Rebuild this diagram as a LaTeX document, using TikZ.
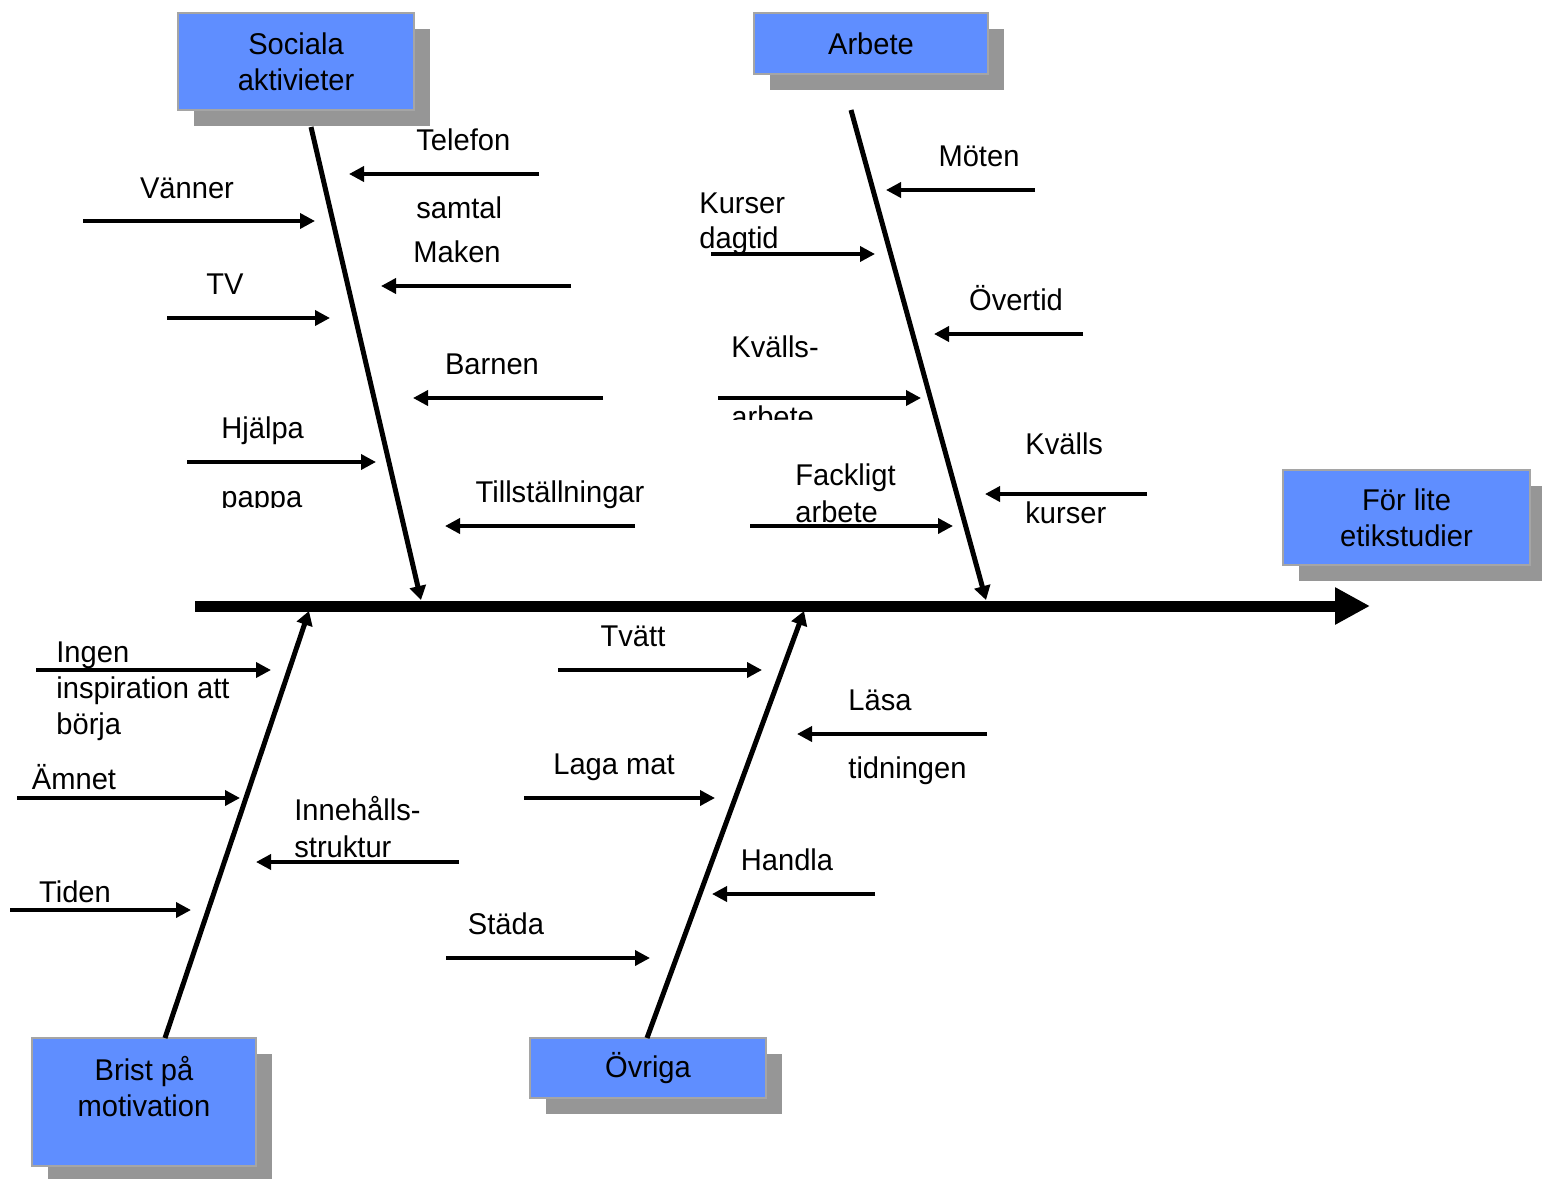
\documentclass[tikz,border=0pt]{standalone}
\usepackage{fontspec}
\setmainfont[FakeStretch=0.97]{Liberation Sans}
\usetikzlibrary{arrows.meta,shadows}
\definecolor{causeB}{RGB}{95,142,255}
\definecolor{causeG}{RGB}{150,150,150}
\definecolor{edgeG}{RGB}{165,165,165}

\begin{document}
\begin{tikzpicture}[x=0.5pt,y=-0.5pt,font=\fontsize{15}{18}\selectfont,
  cause/.style={draw=edgeG,line width=0.8pt,fill=causeB,align=center,inner sep=0pt,
    drop shadow={shadow xshift=8pt,shadow yshift=-8pt,fill=causeG,opacity=1}},
  bone/.style={line width=2.5pt,-{Triangle[length=7pt,width=8pt]}},
  rib/.style={line width=1.8pt,-{Triangle[length=7.5pt,width=7.5pt]}},
  lbl/.style={inner sep=0pt,anchor=base},
  lblw/.style={inner sep=0pt,anchor=base west}]
\useasboundingbox (0,0) rectangle (1542,1178);
% the effect and the spine
\node[cause,minimum width=123.5pt,minimum height=47.5pt] (effect) at (1406.5,517.5) {För lite\\etikstudier};
\coordinate (spS) at (195,606);
\coordinate (spE) at (1370,606);
\draw[line width=5.5pt,-{Triangle[length=17.5pt,width=17.5pt]}] (spS) -- (spE);
% the four causes
\node[cause,minimum width=118pt,minimum height=48.5pt] (social) at (296,61.5) {Sociala\\aktivieter};
\node[cause,minimum width=117pt,minimum height=30.5pt] (work) at (871,43.5) {Arbete};
\node[cause,minimum width=112pt,minimum height=64pt,text depth=16pt] (motiv) at (144,1102) {Brist på\\motivation};
\node[cause,minimum width=118pt,minimum height=30pt] (other) at (648,1068) {Övriga};
% bones
\coordinate (socS) at (311,127);  \coordinate (socE) at (421,600);
\coordinate (wrkS) at (851,110);  \coordinate (wrkE) at (986,600);
\coordinate (motS) at (165,1038); \coordinate (motE) at (309,611);
\coordinate (othS) at (647,1038); \coordinate (othE) at (804,611);
\draw[bone] (socS) -- (socE);
\draw[bone] (wrkS) -- (wrkE);
\draw[bone] (motS) -- (motE);
\draw[bone] (othS) -- (othE);
% ribs: name/start x/end x/y
\foreach \nm/\xa/\xb/\yy in {tel/539/349/174, van/83/315/221, mak/571/381/286, tv/167/330/318,
    bar/603/413/398, hja/187/376/462, til/635/445/526,
    mot/1035/886/190, kur/711/875/254, ove/1083/934/334, kva/718/921/398,
    kvk/1147/985/494, fac/750/953/526,
    ing/36/271/670, amn/17/240/798, inn/459/256/862, tid/10/191/910,
    tva/558/762/670, las/987/797/734, lag/524/715/798, han/875/712/894, sta/446/650/958}{
  \coordinate (\nm S) at (\xa,\yy);
  \coordinate (\nm E) at (\xb,\yy);
  \draw[rib] (\nm S) -- (\nm E);
}
% labels, social activities
\node[lblw] (tTel1) at (416,150) {Telefon};
\node[lblw] (tTel2) at (416,218) {samtal};
\node[lbl] (tVan) at (187,198) {Vänner};
\node[lbl] (tMak) at (457,262) {Maken};
\node[lbl] (tTv) at (225,294) {TV};
\node[lbl] (tBar) at (492,374) {Barnen};
\node[lblw] (tHja1) at (221,438) {Hjälpa};
\begin{scope}
\clip (150,470) rectangle (360,507);
\node[lblw] (tHja2) at (221,507) {pappa};
\end{scope}
\node[lbl] (tTil) at (560,502) {Tillställningar};
% labels, work
\node[lbl] (tMot) at (979,166) {Möten};
\node[lblw] (tKur1) at (699,213) {Kurser};
\node[lblw] (tKur2) at (699,248) {dagtid};
\node[lbl] (tOve) at (1016,310) {Övertid};
\node[lblw] (tKva1) at (731,357) {Kvälls-};
\begin{scope}
\clip (700,390) rectangle (900,419);
\node[lblw] (tKva2) at (731,427) {arbete};
\end{scope}
\node[lblw] (tKvk1) at (1025,454) {Kvälls};
\node[lblw] (tKvk2) at (1025,523) {kurser};
\node[lblw] (tFac1) at (795,485) {Fackligt};
\node[lblw] (tFac2) at (795,522) {arbete};
% labels, motivation
\node[lblw] (tIng1) at (56,662) {Ingen};
\node[lblw] (tIng2) at (56,698) {inspiration att};
\node[lblw] (tIng3) at (56,734) {börja};
\node[lbl] (tAmn) at (74,789) {Ämnet};
\node[lblw] (tInn1) at (294,820) {Innehålls-};
\node[lblw] (tInn2) at (294,857) {struktur};
\node[lbl] (tTid) at (75,902) {Tiden};
% labels, other
\node[lbl] (tTva) at (633,646) {Tvätt};
\node[lblw] (tLas1) at (848,710) {Läsa};
\node[lblw] (tLas2) at (848,778) {tidningen};
\node[lbl] (tLag) at (614,774) {Laga mat};
\node[lbl] (tHan) at (787,870) {Handla};
\node[lbl] (tSta) at (506,934) {Städa};
\end{tikzpicture}
\end{document}
